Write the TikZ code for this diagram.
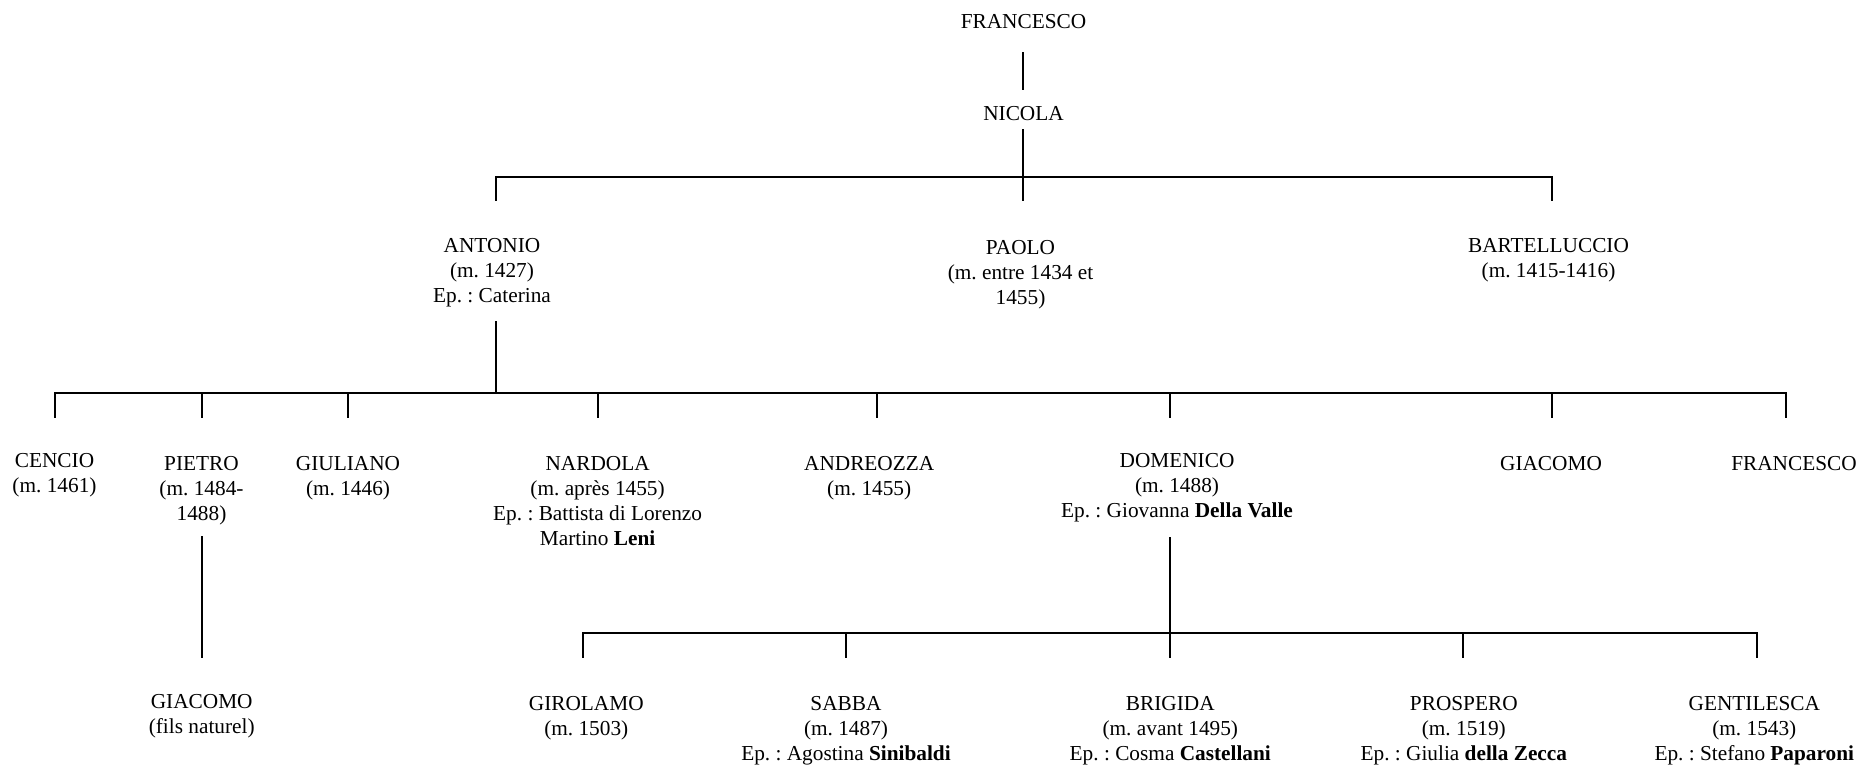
\documentclass[tikz,border=0pt]{standalone}
\usepackage{fontspec}
\setmainfont{Liberation Serif}
\frenchspacing
\begin{document}
\begin{tikzpicture}[x=1pt,y=-1pt,
  person/.style={anchor=base,inner sep=0pt,align=center,font=\fontsize{21.3}{25}\selectfont},
  link/.style={line width=2pt,line cap=rect}]
\useasboundingbox (0,0) rectangle (1861,766);
% people (position = baseline of the last line)
\node[person] (francescoA) at (1023.5,28.5) {FRANCESCO};
\node[person] (nicola) at (1023.5,120) {NICOLA};
\node[person] (antonio) at (492,302) {ANTONIO\\(m. 1427)\\Ep. : Caterina};
\node[person] (paolo) at (1020.5,304.5) {PAOLO\\(m. entre 1434 et\\1455)};
\node[person] (bartel) at (1548.5,277) {BARTELLUCCIO\\(m. 1415-1416)};
\node[person] (cencio) at (54.5,492.5) {CENCIO\\(m. 1461)};
\node[person] (pietro) at (201.5,520.3) {PIETRO\\(m. 1484-\\1488)};
\node[person] (giuliano) at (348,495.3) {GIULIANO\\(m. 1446)};
\node[person] (nardola) at (597.6,545.3) {NARDOLA\\(m. après 1455)\\Ep. : Battista di Lorenzo\\Martino \textbf{Leni}};
\node[person] (andreozza) at (869.2,495.3) {ANDREOZZA\\(m. 1455)};
\node[person] (domenico) at (1177,517.5) {DOMENICO\\(m. 1488)\\Ep. : Giovanna \textbf{Della Valle}};
\node[person] (giacomoA) at (1551,470.3) {GIACOMO};
\node[person] (francescoB) at (1794,470.3) {FRANCESCO};
\node[person] (giacomoB) at (201.7,733.7) {GIACOMO\\(fils naturel)};
\node[person] (girolamo) at (586.3,735.3) {GIROLAMO\\(m. 1503)};
\node[person] (sabba) at (846,760.3) {SABBA\\(m. 1487)\\Ep. : Agostina \textbf{Sinibaldi}};
\node[person] (brigida) at (1170.3,760.3) {BRIGIDA\\(m. avant 1495)\\Ep. : Cosma \textbf{Castellani}};
\node[person] (prospero) at (1463.8,760.3) {PROSPERO\\(m. 1519)\\Ep. : Giulia \textbf{della Zecca}};
\node[person] (gentilesca) at (1754.3,760.3) {GENTILESCA\\(m. 1543)\\Ep. : Stefano \textbf{Paparoni}};
% connector points
\coordinate (fA-s) at (1023,52.5);
\coordinate (ni-n) at (1023,88.5);
\coordinate (ni-s) at (1023,130);
\coordinate (bus1) at (1023,176.7);
\coordinate (an-n) at (496,200);
\coordinate (pa-n) at (1023,200);
\coordinate (ba-n) at (1551.7,200);
\coordinate (an-s) at (496,321.7);
\coordinate (bus2) at (496,393);
\coordinate (ce-n) at (54.6,416.7);
\coordinate (pi-n) at (201.7,416.7);
\coordinate (gi-n) at (348.2,416.7);
\coordinate (na-n) at (597.9,416.7);
\coordinate (ad-n) at (876.6,416.7);
\coordinate (do-n) at (1169.9,416.7);
\coordinate (gA-n) at (1551.7,416.7);
\coordinate (fB-n) at (1785.6,416.7);
\coordinate (pi-s) at (201.7,537.3);
\coordinate (gB-n) at (201.7,656.7);
\coordinate (do-s) at (1169.9,538.3);
\coordinate (bus3) at (1169.9,633.3);
\coordinate (gr-n) at (583,656.7);
\coordinate (sa-n) at (846.4,656.7);
\coordinate (br-n) at (1169.9,656.7);
\coordinate (pr-n) at (1463.2,656.7);
\coordinate (ge-n) at (1756.6,656.7);
% connectors
\draw[link] (fA-s) -- (ni-n);
\draw[link] (ni-s) -- (pa-n);
\draw[link] (an-n) -- (an-n |- bus1) -- (ba-n |- bus1) -- (ba-n);
\draw[link] (an-s) -- (bus2);
\draw[link] (ce-n) -- (ce-n |- bus2) -- (fB-n |- bus2) -- (fB-n);
\foreach \c in {pi-n,gi-n,na-n,ad-n,do-n,gA-n}
  \draw[link] (\c |- bus2) -- (\c);
\draw[link] (pi-s) -- (gB-n);
\draw[link] (do-s) -- (br-n);
\draw[link] (gr-n) -- (gr-n |- bus3) -- (ge-n |- bus3) -- (ge-n);
\foreach \c in {sa-n,pr-n}
  \draw[link] (\c |- bus3) -- (\c);
\end{tikzpicture}
\end{document}
